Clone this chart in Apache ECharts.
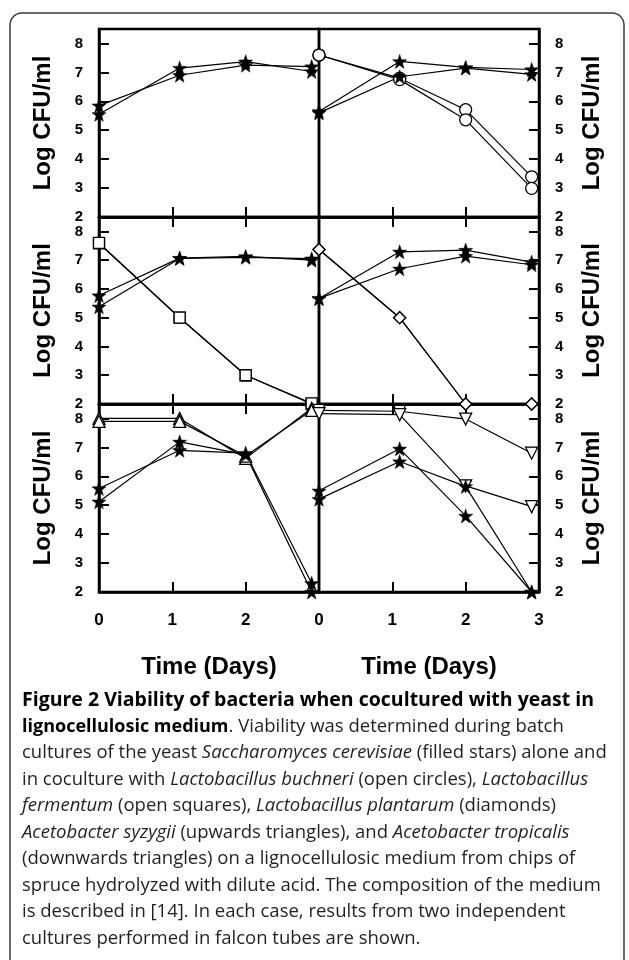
<!DOCTYPE html>
<html lang="en" style="height: 100%">
<head>
  <meta charset="utf-8">
</head>
<body style="height: 100%; margin: 0; background: #fff">
  <div id="container" style="width: 629px; height: 960px"></div>

  <script type="text/javascript" src="https://fastly.jsdelivr.net/npm/echarts@6.0.0/dist/echarts.min.js"></script>

	<script type="text/javascript">

		// sampling times (days) - the points sit a bit after day 1 and before day 3
		const days = [0, 1.1, 2, 2.9];
		const yTicks = [2, 3, 4, 5, 6, 7, 8];

		// yeast alone (top left)
		const yeastAlone1 = [5.85, 6.9, 7.25, 7.2];
		const yeastAlone2 = [5.55, 7.15, 7.37, 7.03];

		// L. buchneri (top right)
		const yeastBuchneri1 = [5.65, 7.38, 7.17, 7.1];
		const yeastBuchneri2 = [5.6, 6.85, 7.15, 6.93];
		const buchneri1 = [7.6, 6.8, 5.71, 3.39];
		const buchneri2 = [7.6, 6.75, 5.36, 2.99];

		// L. fermentum (middle left)
		const yeastFermentum1 = [5.77, 7.07, 7.13, 7.0];
		const yeastFermentum2 = [5.38, 7.06, 7.1, 7.05];
		const fermentum1 = [7.58, 5.0, 3.0, 2.0];
		const fermentum2 = [7.6, 5.0, 3.0, 2.02];

		// L. plantarum (middle right)
		const yeastPlantarum1 = [5.67, 7.29, 7.35, 6.93];
		const yeastPlantarum2 = [5.67, 6.7, 7.14, 6.84];
		const plantarum1 = [7.37, 5.0, 2.0, 2.0];
		const plantarum2 = [7.37, 5.0, 2.0, 2.0];

		// A. syzygii (bottom left)
		const yeastSyzygii1 = [5.58, 6.9, 6.8, 2.3];
		const yeastSyzygii2 = [5.12, 7.19, 6.75, 2.0];
		const syzygii1 = [8.0, 8.0, 6.62, 8.35];
		const syzygii2 = [7.9, 7.9, 6.7, 8.28];

		// A. tropicalis (bottom right)
		const yeastTropicalis1 = [5.5, 6.95, 4.63, 2.0];
		const yeastTropicalis2 = [5.21, 6.51, 5.65, 2.0];
		const tropicalis1 = [8.28, 8.25, 7.98, 6.8];
		const tropicalis2 = [8.17, 8.13, 5.67, 4.95];

		const yName = 'Log CFU/ml';
		const xName = 'Time (Days)';

		const captionLines = [
			'{t|Figure 2 Viability of bacteria when cocultured with yeast in}',
			'{b|lignocellulosic medium}. Viability was determined during batch',
			'cultures of the yeast {i|Saccharomyces cerevisiae} (filled stars) alone and',
			'in coculture with {i|Lactobacillus buchneri} (open circles), {i|Lactobacillus}',
			'{i|fermentum} (open squares), {i|Lactobacillus plantarum} (diamonds)',
			'{i|Acetobacter syzygii} (upwards triangles), and {i|Acetobacter tropicalis}',
			'(downwards triangles) on a lignocellulosic medium from chips of',
			'spruce hydrolyzed with dilute acid. The composition of the medium',
			'is described in [14]. In each case, results from two independent',
			'cultures performed in falcon tubes are shown.'
		];

		//////////////////////////////////////////////////////////////////

		const starPath = 'path://M0,-10L2.35,-3.24L9.51,-3.09L3.8,1.24L5.88,8.09L0,4L-5.88,8.09L-3.8,1.24L-9.51,-3.09L-2.35,-3.24Z';

		const markers = {
			circle: { symbol: 'circle', size: 12, rotate: 0 },
			square: { symbol: 'rect', size: 11, rotate: 0 },
			diamond: { symbol: 'diamond', size: 12, rotate: 0 },
			up: { symbol: 'triangle', size: 12, rotate: 0 },
			down: { symbol: 'triangle', size: 12, rotate: 180 }
		};

		const panels = [
			{ stars: [yeastAlone1, yeastAlone2], bact: [], mark: null },
			{ stars: [yeastBuchneri1, yeastBuchneri2], bact: [buchneri1, buchneri2], mark: 'circle' },
			{ stars: [yeastFermentum1, yeastFermentum2], bact: [fermentum1, fermentum2], mark: 'square' },
			{ stars: [yeastPlantarum1, yeastPlantarum2], bact: [plantarum1, plantarum2], mark: 'diamond' },
			{ stars: [yeastSyzygii1, yeastSyzygii2], bact: [syzygii1, syzygii2], mark: 'up' },
			{ stars: [yeastTropicalis1, yeastTropicalis2], bact: [tropicalis1, tropicalis2], mark: 'down' }
		];

		const colLeft = [99, 319];
		const plotWidth = 220;
		const rowTop = [29, 217, 404];
		const rowHeight = [188, 187, 188];

		const axisFont = 'Liberation Sans';

		function points(values) {
			return days.map(function (d, k) { return [d, values[k]]; });
		}

		const grids = [], xAxes = [], yAxes = [], series = [];

		panels.forEach(function (p, i) {
			const col = i % 2;
			const row = Math.floor(i / 2);
			const last = row === 2;

			grids.push({
				left: colLeft[col], top: rowTop[row], width: plotWidth, height: rowHeight[row],
				show: true, borderColor: '#000', borderWidth: 2.5,
				outerBoundsMode: 'none', containLabel: false
			});

			const xIdx = xAxes.length;
			xAxes.push({
				gridIndex: i, type: 'value', position: 'bottom',
				min: 0, max: 3, interval: 1,
				axisLine: { show: true, onZero: false, lineStyle: { color: '#000', width: 2.5 } },
				axisTick: { show: true, inside: true, length: 10, lineStyle: { color: '#000', width: 2 } },
				splitLine: { show: false },
				axisLabel: {
					show: last, margin: 20,
					fontFamily: axisFont, fontWeight: 'bold', fontSize: 17, color: '#000',
					formatter: function (v) { return (col === 0 && v === 3) ? '' : String(v); }
				},
				name: last ? xName : '', nameLocation: 'middle', nameGap: 63,
				nameTextStyle: { fontFamily: axisFont, fontWeight: 'bold', fontSize: 24, color: '#000' }
			});
			if (row > 0) {
				xAxes.push({
					gridIndex: i, type: 'value', position: 'top',
					min: 0, max: 3, interval: 1,
					axisLine: { show: true, onZero: false, lineStyle: { color: '#000', width: 2.5 } },
					axisTick: { show: true, inside: true, length: 10, lineStyle: { color: '#000', width: 2 } },
					splitLine: { show: false },
					axisLabel: { show: false }
				});
			}

			yAxes.push({
				gridIndex: i, type: 'value', position: col === 0 ? 'left' : 'right',
				min: yTicks[0], max: 8.5, interval: 1,
				axisLine: { show: true, onZero: false, lineStyle: { color: '#000', width: 2.5 } },
				axisTick: { show: true, inside: true, length: 10, lineStyle: { color: '#000', width: 2 } },
				splitLine: { show: false },
				axisLabel: {
					margin: 16, fontFamily: axisFont, fontWeight: 'bold', fontSize: 15, color: '#000',
					formatter: function (v) { return yTicks.indexOf(v) >= 0 ? String(v) : ''; }
				},
				name: yName, nameLocation: 'middle', nameRotate: 90,
				nameGap: col === 0 ? 44 : 41,
				nameTextStyle: { fontFamily: axisFont, fontWeight: 'bold', fontSize: 24, color: '#000' }
			});

			// bacteria first, yeast stars drawn on top
			p.bact.forEach(function (vals) {
				const m = markers[p.mark];
				series.push({
					type: 'line', xAxisIndex: xIdx, yAxisIndex: i,
					data: points(vals), clip: false,
					symbol: m.symbol, symbolSize: m.size, symbolRotate: m.rotate,
					showAllSymbol: true,
					lineStyle: { color: '#000', width: 1.2 },
					itemStyle: { color: '#fff', borderColor: '#000', borderWidth: 1.3 },
					emphasis: { disabled: true }, animation: false
				});
			});
			p.stars.forEach(function (vals) {
				series.push({
					type: 'line', xAxisIndex: xIdx, yAxisIndex: i,
					data: points(vals), clip: false,
					symbol: starPath, symbolSize: 14,
					showAllSymbol: true,
					lineStyle: { color: '#000', width: 1.2 },
					itemStyle: { color: '#000', borderColor: '#000', borderWidth: 0.5 },
					emphasis: { disabled: true }, animation: false
				});
			});
		});

		//////////////////////////////////////////////////////////////////
		// caption below the chart

		const captionTop = 700;
		const captionStep = 26.5;
		const capFont = 'Open Sans';
		const capSize = 18.5;

		const graphics = [{
			type: 'rect', z: -10, silent: true,
			shape: { x: 10, y: 13, width: 614, height: 980, r: 12 },
			style: { fill: 'none', stroke: '#3a3a3a', lineWidth: 1.5 }
		}];
		captionLines.forEach(function (line, k) {
			graphics.push({
				type: 'text', silent: true,
				x: 22, y: captionTop + k * captionStep,
				style: {
					text: line, fontFamily: capFont, fontSize: capSize, fill: '#231f20',
					verticalAlign: 'middle',
					rich: {
						t: { fontFamily: capFont, fontSize: 19.5, fontWeight: 'bold', fill: '#000' },
						b: { fontFamily: capFont, fontSize: 18, fontWeight: 'bold', fill: '#000' },
						i: { fontFamily: capFont, fontSize: capSize, fontStyle: 'italic', fill: '#231f20' }
					}
				}
			});
		});

		var dom = document.getElementById('container');
		var myChart = echarts.init(dom, null, { renderer: 'canvas' });

		var option = {
			backgroundColor: '#fff',
			animation: false,
			grid: grids,
			xAxis: xAxes,
			yAxis: yAxes,
			series: series,
			graphic: graphics
		};

		myChart.setOption(option);
  </script>
</body>
</html>
